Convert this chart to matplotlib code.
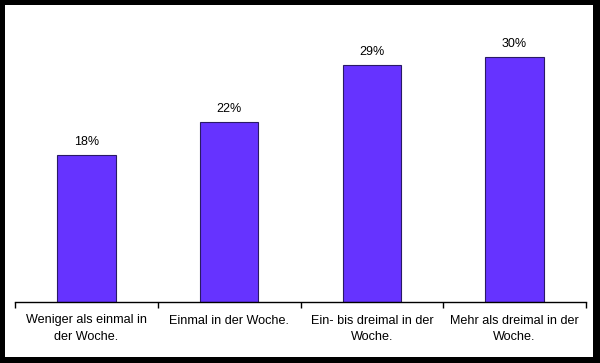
import matplotlib
matplotlib.use("Agg")
import matplotlib.pyplot as plt
from matplotlib.patches import Rectangle

categories = ["Weniger als einmal in\nder Woche.", "Einmal in der Woche.",
              "Ein- bis dreimal in der\nWoche.", "Mehr als dreimal in der\nWoche."]
values = [18, 22, 29, 30]
labels = ["18%", "22%", "29%", "30%"]

W, H = 600, 363
fig = plt.figure(figsize=(W/100, H/100), dpi=100)
fig.patch.set_facecolor("black")
# white inner area
fig.add_artist(Rectangle((5/W, 1-357/H), (593-5)/W, (357-5)/H, transform=fig.transFigure,
                         facecolor="white", edgecolor="none", zorder=0))

ax_left, ax_right = 15, 586
ax_bottom, ax_top = 302, 16
ax = fig.add_axes([ax_left/W, 1-ax_bottom/H, (ax_right-ax_left)/W, (ax_bottom-ax_top)/H])
ax.set_facecolor("none")
x = range(len(values))
ax.bar(x, values, width=0.41, color="#6633ff", edgecolor="#2a1a66", linewidth=0.8)
for xi, v, lab in zip(x, values, labels):
    ax.text(xi, v + 0.9, lab, ha="center", va="bottom", fontsize=9,
            family="Liberation Sans", color="black")
ax.set_xlim(-0.5, len(values)-0.5)
ax.set_ylim(0, 35)
ax.set_yticks([])
for s in ["top", "right", "left"]:
    ax.spines[s].set_visible(False)
ax.spines["bottom"].set_color("black")
ax.spines["bottom"].set_linewidth(1)
ax.set_xticks([i - 0.5 for i in range(len(values)+1)])
ax.set_xticklabels([])
ax.set_xticks(list(x), minor=True)
ax.set_xticklabels(categories, minor=True, fontsize=9.1, family="Liberation Sans", linespacing=1.45)
ax.tick_params(axis="x", which="major", length=4, width=1, color="black", direction="out")
ax.tick_params(axis="x", which="minor", length=0, pad=9)
fig.savefig("out.png", dpi=100, facecolor="black")
